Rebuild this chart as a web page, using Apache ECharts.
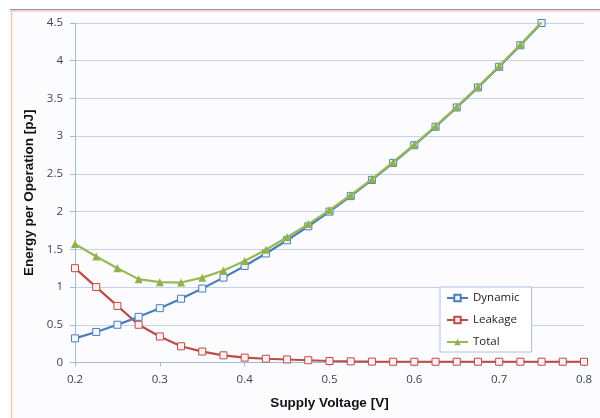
<!DOCTYPE html>
<html><head><meta charset="utf-8">
<script src="https://cdn.jsdelivr.net/npm/echarts@6/dist/echarts.min.js"></script>
<style>html,body{margin:0;padding:0;background:#fff}#c{width:600px;height:418px}</style>
</head><body><div id="c"></div>
<script>
const voltage = [0.2,0.225,0.25,0.275,0.3,0.325,0.35,0.375,0.4,0.425,0.45,0.475,0.5,0.525,0.55,0.575,0.6,0.625,0.65,0.675,0.7,0.725,0.75,0.775,0.8];
const dynamic = [0.32,0.405,0.5,0.605,0.72,0.845,0.98,1.125,1.28,1.445,1.62,1.805,2.0,2.205,2.42,2.645,2.88,3.125,3.38,3.645,3.92,4.205,4.5];
const leakage = [1.25,1.0,0.75,0.5,0.345,0.215,0.145,0.095,0.065,0.05,0.04,0.03,0.02,0.015,0.012,0.01,0.01,0.01,0.01,0.01,0.01,0.01,0.01,0.01,0.01];
const total = [1.57,1.405,1.25,1.105,1.065,1.06,1.125,1.22,1.345,1.495,1.66,1.835,2.02,2.22,2.432,2.655,2.89,3.135,3.39,3.655,3.93,4.215,4.51];
const xTicks = [0.2,0.3,0.4,0.5,0.6,0.7,0.8];

const pairs = (ys) => ys.map((y,i)=>[voltage[i], y]);
const chart = echarts.init(document.getElementById('c'));
const txt = '#3c4650';
chart.setOption({
  backgroundColor: '#ffffff',
  animation: false,
  graphic: [
    {type:'rect', shape:{x:11,y:10,width:589,height:408}, style:{fill:'#fcfcfe'}, z:-10, silent:true},
    {type:'line', shape:{x1:10,y1:9.5,x2:600,y2:9.5}, style:{stroke:'#8a96a8',lineWidth:1}, z:-5},
    {type:'line', shape:{x1:11,y1:11,x2:600,y2:11}, style:{stroke:'#f4c8b8',lineWidth:1.5}, z:-5},
    {type:'line', shape:{x1:11.5,y1:10,x2:11.5,y2:418}, style:{stroke:'#f4c8b8',lineWidth:1.5}, z:-5}
  ],
  grid: {left:75, right:16, top:23, bottom:55.5, containLabel:false},
  legend: {
    orient:'vertical', left:440, top:287, itemWidth:21, itemHeight:8, itemGap:10,
    padding:[5,12,4,6], backgroundColor:'#ffffff', borderColor:'#a9c2e0', borderWidth:1,
    textStyle:{fontSize:11.5, color:'#222', fontFamily:'Open Sans, sans-serif'},
    data:['Dynamic','Leakage','Total']
  },
  xAxis: {
    type:'value', min:0.2, max:0.8, interval:0.1,
    name:'Supply Voltage [V]', nameLocation:'middle', nameGap:34,
    nameTextStyle:{fontSize:13.5, fontWeight:'bold', color:'#111', fontFamily:'Liberation Sans, Arial, sans-serif'},
    axisLine:{show:true, lineStyle:{color:'#9fbadb'}},
    axisTick:{show:true, length:4, lineStyle:{color:'#9fbadb'}},
    splitLine:{show:false},
    axisLabel:{fontSize:11.5, color:txt, margin:11, fontFamily:'Open Sans, sans-serif', formatter:(v)=>xTicks.includes(Math.round(v*10)/10)?(Math.round(v*10)/10).toString():''}
  },
  yAxis: {
    type:'value', min:0, max:4.5, interval:0.5,
    name:'Energy per Operation [pJ]', nameLocation:'middle', nameGap:36,
    nameTextStyle:{fontSize:13.5, fontWeight:'bold', color:'#111', fontFamily:'Liberation Sans, Arial, sans-serif'},
    axisLine:{show:true, lineStyle:{color:'#9fbadb'}},
    axisTick:{show:true, length:5, lineStyle:{color:'#9fbadb'}},
    splitLine:{show:true, lineStyle:{color:'#c3d3e8', width:1}},
    axisLabel:{fontSize:11.5, color:txt, margin:12, fontFamily:'Open Sans, sans-serif'}
  },
  series: [
    {name:'Dynamic', type:'line', data:pairs(dynamic), symbol:'rect', symbolSize:7, showAllSymbol:true,
     lineStyle:{color:'#4a7ebb', width:2.2}, itemStyle:{color:'#f4f8fc', borderColor:'#4a7ebb', borderWidth:1}, z:3},
    {name:'Leakage', type:'line', data:pairs(leakage), symbol:'rect', symbolSize:7, showAllSymbol:true,
     lineStyle:{color:'#be4b48', width:2.2}, itemStyle:{color:'#fbf2f2', borderColor:'#be4b48', borderWidth:1}, z:2},
    {name:'Total', type:'line', data:pairs(total).map((p,i,a)=> i===a.length-1 ? {value:p, symbol:'none'} : p), symbol:'triangle', symbolSize:8, showAllSymbol:true,
     lineStyle:{color:'#98b954', width:2.2}, itemStyle:{color:'#8fb34a', borderColor:'#8fb34a', borderWidth:0}, z:4}
  ]
});
</script></body></html>
